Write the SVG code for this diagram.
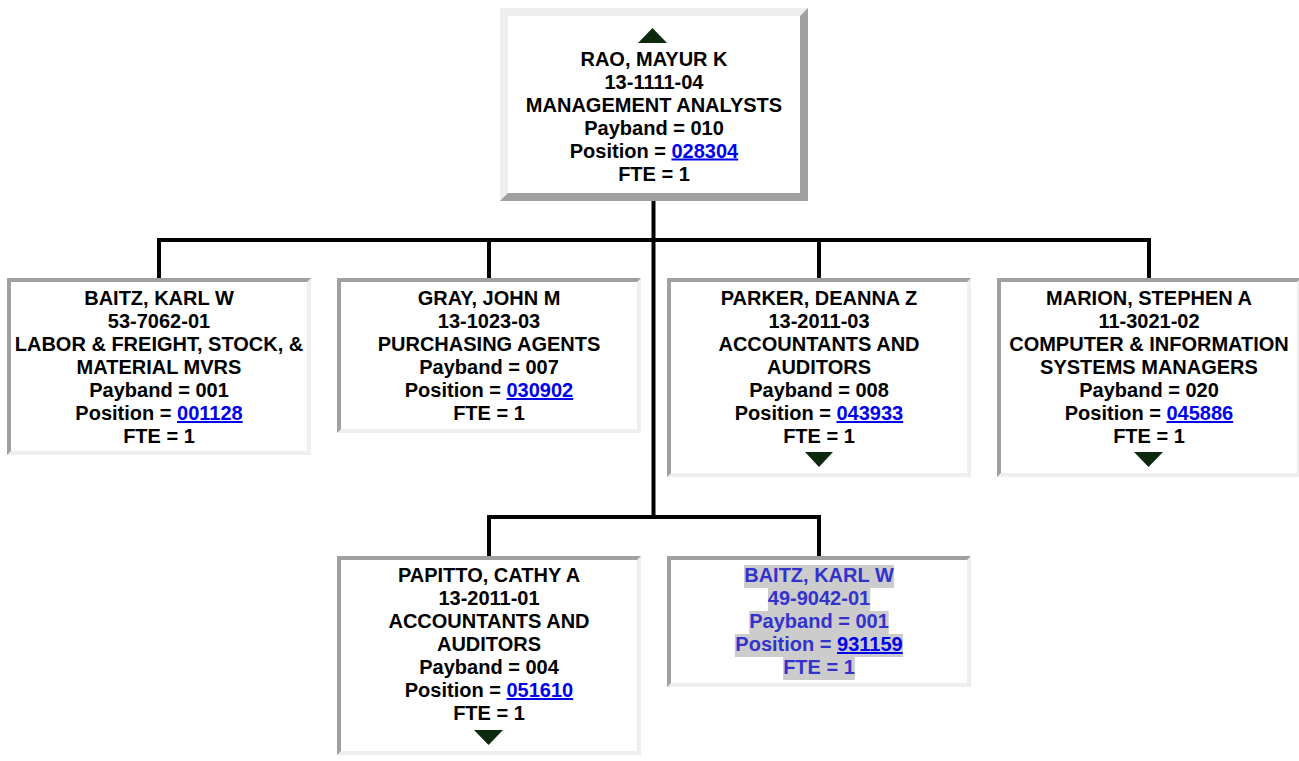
<svg xmlns="http://www.w3.org/2000/svg" width="1299" height="761" viewBox="0 0 1299 761">
<defs>
<style>
.t{font-family:"Liberation Sans",Arial,sans-serif;font-weight:bold;font-size:20px;text-anchor:middle;fill:#000}
.lnk{fill:#0000EE;text-decoration:underline}
.sel{fill:#3333CC}
.hl{fill:#CCCCCC}
.lt{fill:#EEEEEE}
.dk{fill:#A0A0A0}
.wh{fill:#FFFFFF}
.tri{fill:#0E2A0E}
.con{fill:none;stroke:#000;stroke-width:4;stroke-linejoin:miter}
</style>
</defs>
<rect width="1299" height="761" fill="#fff"/>
<g id="connectors">
<path class="con" d="M653.5 201 V517"/>
<path class="con" d="M159 278 V240 H1149 V278"/>
<path class="con" d="M489 240 V278"/>
<path class="con" d="M819 240 V278"/>
<path class="con" d="M489 556 V517 H819 V556"/>
</g>
<g id="node-rao">
<rect class="dk" x="500" y="8" width="308" height="193"/>
<path class="lt" d="M500 8 H808 L800 16 H508 V193 L500 201 Z"/>
<rect class="wh" x="508" y="16" width="292" height="177"/>
<polygon class="tri" points="638,43 667,43 652.5,28"/>
<text class="t" x="654" y="65.5">RAO, MAYUR K</text>
<text class="t" x="654" y="88.5">13-1111-04</text>
<text class="t" x="654" y="111.5">MANAGEMENT ANALYSTS</text>
<text class="t" x="654" y="134.5">Payband = 010</text>
<text class="t" x="654" y="157.5">Position = <tspan class="lnk">028304</tspan></text>
<text class="t" x="654" y="180.5">FTE = 1</text>
</g>
<g id="node-baitz1">
<rect class="lt" x="7" y="278" width="304" height="177"/>
<path class="dk" d="M7 278 H311 L307 282 H11 V451 L7 455 Z"/>
<rect class="wh" x="11" y="282" width="296" height="169"/>
<text class="t" x="159" y="305">BAITZ, KARL W</text>
<text class="t" x="159" y="328">53-7062-01</text>
<text class="t" x="159" y="351">LABOR &amp; FREIGHT, STOCK, &amp;</text>
<text class="t" x="159" y="374">MATERIAL MVRS</text>
<text class="t" x="159" y="397">Payband = 001</text>
<text class="t" x="159" y="420">Position = <tspan class="lnk">001128</tspan></text>
<text class="t" x="159" y="443">FTE = 1</text>
</g>
<g id="node-gray">
<rect class="lt" x="337" y="278" width="304" height="155"/>
<path class="dk" d="M337 278 H641 L637 282 H341 V429 L337 433 Z"/>
<rect class="wh" x="341" y="282" width="296" height="147"/>
<text class="t" x="489" y="305">GRAY, JOHN M</text>
<text class="t" x="489" y="328">13-1023-03</text>
<text class="t" x="489" y="351">PURCHASING AGENTS</text>
<text class="t" x="489" y="374">Payband = 007</text>
<text class="t" x="489" y="397">Position = <tspan class="lnk">030902</tspan></text>
<text class="t" x="489" y="420">FTE = 1</text>
</g>
<g id="node-parker">
<rect class="lt" x="667" y="278" width="304" height="199"/>
<path class="dk" d="M667 278 H971 L967 282 H671 V473 L667 477 Z"/>
<rect class="wh" x="671" y="282" width="296" height="191"/>
<text class="t" x="819" y="305">PARKER, DEANNA Z</text>
<text class="t" x="819" y="328">13-2011-03</text>
<text class="t" x="819" y="351">ACCOUNTANTS AND</text>
<text class="t" x="819" y="374">AUDITORS</text>
<text class="t" x="819" y="397">Payband = 008</text>
<text class="t" x="819" y="420">Position = <tspan class="lnk">043933</tspan></text>
<text class="t" x="819" y="443">FTE = 1</text>
<polygon class="tri" points="805,452 833,452 819,467"/>
</g>
<g id="node-marion">
<rect class="lt" x="997" y="278" width="304" height="199"/>
<path class="dk" d="M997 278 H1301 L1297 282 H1001 V473 L997 477 Z"/>
<rect class="wh" x="1001" y="282" width="296" height="191"/>
<text class="t" x="1149" y="305">MARION, STEPHEN A</text>
<text class="t" x="1149" y="328">11-3021-02</text>
<text class="t" x="1149" y="351">COMPUTER &amp; INFORMATION</text>
<text class="t" x="1149" y="374">SYSTEMS MANAGERS</text>
<text class="t" x="1149" y="397">Payband = 020</text>
<text class="t" x="1149" y="420">Position = <tspan class="lnk">045886</tspan></text>
<text class="t" x="1149" y="443">FTE = 1</text>
<polygon class="tri" points="1134,452 1163,452 1148.5,467"/>
</g>
<g id="node-papitto">
<rect class="lt" x="337" y="556" width="304" height="199"/>
<path class="dk" d="M337 556 H641 L637 560 H341 V751 L337 755 Z"/>
<rect class="wh" x="341" y="560" width="296" height="191"/>
<text class="t" x="489" y="582">PAPITTO, CATHY A</text>
<text class="t" x="489" y="605">13-2011-01</text>
<text class="t" x="489" y="628">ACCOUNTANTS AND</text>
<text class="t" x="489" y="651">AUDITORS</text>
<text class="t" x="489" y="674">Payband = 004</text>
<text class="t" x="489" y="697">Position = <tspan class="lnk">051610</tspan></text>
<text class="t" x="489" y="720">FTE = 1</text>
<polygon class="tri" points="474,730 503,730 488.5,745"/>
</g>
<g id="node-baitz2">
<rect class="lt" x="667" y="556" width="304" height="131"/>
<path class="dk" d="M667 556 H971 L967 560 H671 V683 L667 687 Z"/>
<rect class="wh" x="671" y="560" width="296" height="123"/>
<rect class="hl" x="744" y="565" width="150" height="23"/>
<rect class="hl" x="768" y="588" width="102.3" height="23"/>
<rect class="hl" x="749.2" y="611" width="139.5" height="23"/>
<rect class="hl" x="734.9" y="634" width="168.2" height="23"/>
<rect class="hl" x="783.1" y="657" width="71.7" height="23"/>
<text class="t sel" x="819" y="582">BAITZ, KARL W</text>
<text class="t sel" x="819" y="605">49-9042-01</text>
<text class="t sel" x="819" y="628">Payband = 001</text>
<text class="t sel" x="819" y="651">Position = <tspan class="lnk">931159</tspan></text>
<text class="t sel" x="819" y="674">FTE = 1</text>
</g>
</svg>
